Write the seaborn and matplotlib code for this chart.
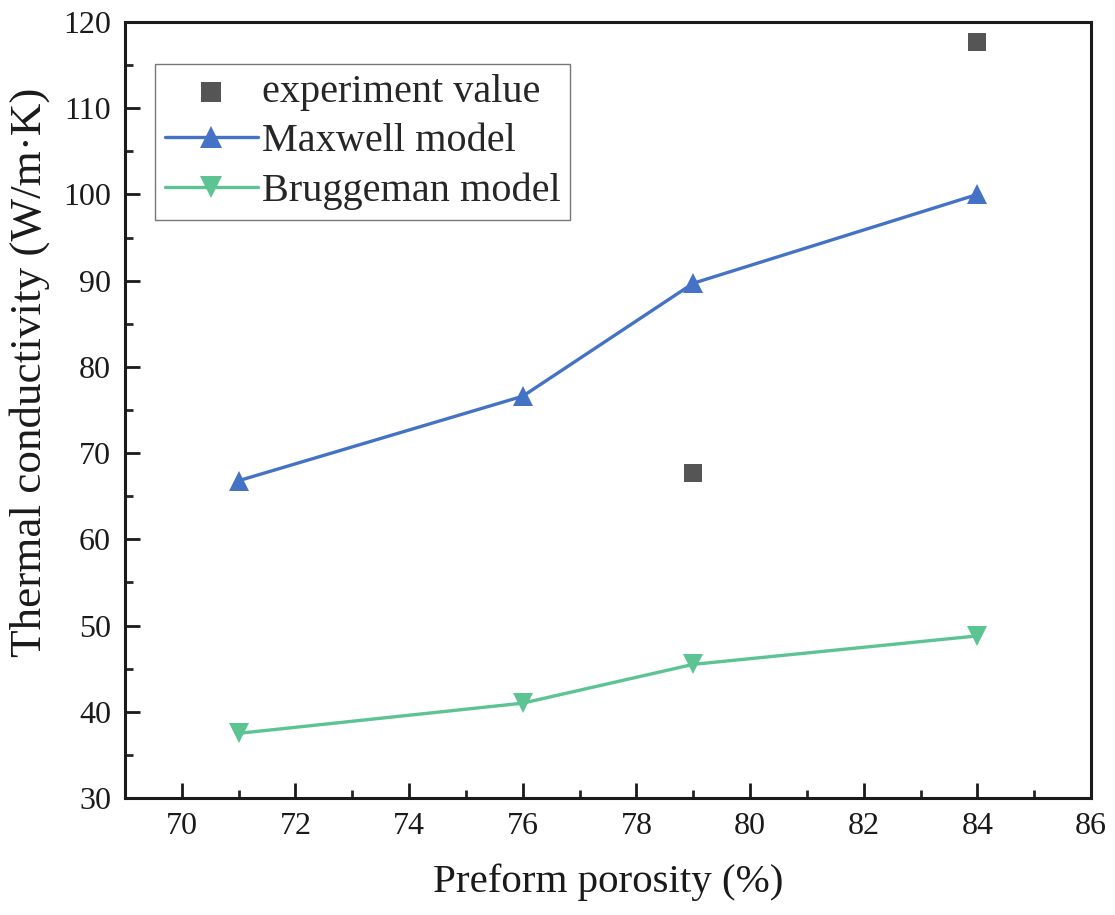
import matplotlib
matplotlib.use("Agg")
import matplotlib.pyplot as plt
import seaborn as sns
import pandas as pd
from matplotlib.ticker import MultipleLocator

# Porosity of the preforms (%)
porosity = [71, 76, 79, 84]
maxwell = [66.8, 76.6, 89.7, 100.0]
bruggeman = [37.5, 41.0, 45.5, 48.8]

# Measured points
exp_porosity = [79, 84]
exp_value = [67.7, 117.7]

series_names = ["experiment value", "Maxwell model", "Bruggeman model"]
x_ticks = [70, 72, 74, 76, 78, 80, 82, 84, 86]
y_ticks = [30, 40, 50, 60, 70, 80, 90, 100, 110, 120]

sns.set_theme(style="white")
plt.rcParams["font.family"] = ["Liberation Serif", "DejaVu Serif"]

fig = plt.figure(figsize=(11.15, 9.15), dpi=100)
ax = fig.add_axes([125 / 1115, 1 - 798 / 915, (1091 - 125) / 1115, (798 - 22) / 915])

exp_df = pd.DataFrame({"x": exp_porosity, "y": exp_value})
max_df = pd.DataFrame({"x": porosity, "y": maxwell})
bru_df = pd.DataFrame({"x": porosity, "y": bruggeman})

sns.scatterplot(data=exp_df, x="x", y="y", ax=ax, marker="s", s=170,
                color="#555555", edgecolor="none", label=series_names[0], zorder=3)
sns.lineplot(data=max_df, x="x", y="y", ax=ax, color="#4472C4", linewidth=2.4,
             marker="^", markersize=15, markeredgewidth=0, label=series_names[1], zorder=3)
sns.lineplot(data=bru_df, x="x", y="y", ax=ax, color="#5BC492", linewidth=2.4,
             marker="v", markersize=15, markeredgewidth=0, label=series_names[2], zorder=3)

ax.set_xlim(69, 86)
ax.set_ylim(30, 120)
ax.set_xticks(x_ticks)
ax.set_yticks(y_ticks)
ax.xaxis.set_minor_locator(MultipleLocator(1))
ax.yaxis.set_minor_locator(MultipleLocator(5))

ax.tick_params(axis="both", which="major", direction="in", length=11, width=2,
               labelsize=23, colors="#1a1a1a", pad=10,
               bottom=True, left=True, top=False, right=False)
ax.tick_params(axis="both", which="minor", direction="in", length=5.5, width=2,
               bottom=True, left=True, top=False, right=False)
for side in ["left", "bottom", "right", "top"]:
    ax.spines[side].set_visible(True)
    ax.spines[side].set_linewidth(2.2)
    ax.spines[side].set_color("#1a1a1a")

ax.set_xlabel("Preform porosity (%)", fontsize=29.5, color="#1a1a1a", labelpad=16)
ax.set_ylabel("Thermal conductivity (W/m·K)", fontsize=32.5, color="#1a1a1a")
ax.yaxis.set_label_coords(-0.078, 0.549)

leg = ax.legend(loc="upper left", bbox_to_anchor=(0.031, 0.946), fontsize=29,
                frameon=True, fancybox=False, edgecolor="#555555",
                handlelength=2.3, handletextpad=0.1, borderpad=0.25,
                labelspacing=0.3, borderaxespad=0, markerscale=1.1)
leg.get_frame().set_linewidth(1.0)

fig.savefig("out.png", dpi=100)
